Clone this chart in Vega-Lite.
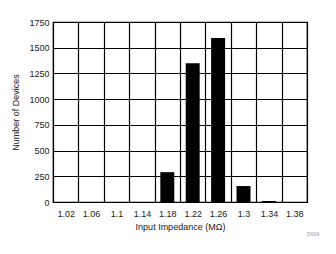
{
  "$schema": "https://vega.github.io/schema/vega-lite/v6.json",
  "autosize": "none",
  "width": 254,
  "height": 180,
  "padding": {"left": 53, "top": 22, "right": 29, "bottom": 52},
  "background": "white",
  "config": {
    "font": "Liberation Sans",
    "view": {"stroke": "black", "strokeWidth": 1.2},
    "axis": {"labelFont": "Liberation Sans", "titleFont": "Liberation Sans", "labelColor": "#222", "titleColor": "#222", "titleFontWeight": "normal", "labelFontSize": 9, "titleFontSize": 9}
  },
  "title": {"text": "D004", "orient": "bottom", "anchor": "end", "fontSize": 5, "color": "#999", "fontWeight": "normal", "offset": 1, "dx": 12},
  "data": {"values": [
    {"imp": "1.02", "count": 0},
    {"imp": "1.06", "count": 0},
    {"imp": "1.1", "count": 0},
    {"imp": "1.14", "count": 0},
    {"imp": "1.18", "count": 290},
    {"imp": "1.22", "count": 1350},
    {"imp": "1.26", "count": 1595},
    {"imp": "1.3", "count": 155},
    {"imp": "1.34", "count": 10},
    {"imp": "1.38", "count": 0}
  ]},
  "mark": {"type": "bar", "color": "black", "width": {"band": 0.55}},
  "encoding": {
    "x": {"field": "imp", "type": "ordinal", "sort": null,
      "scale": {"paddingInner": 0, "paddingOuter": 0},
      "axis": {"title": "Input Impedance (MΩ)", "labelAngle": 0, "ticks": false, "domain": false, "tickBand": "extent", "grid": true, "gridColor": "black", "gridOpacity": 1, "gridWidth": 1.2, "labelPadding": 7, "titlePadding": 4}},
    "y": {"field": "count", "type": "quantitative",
      "scale": {"domain": [0, 1750], "nice": false},
      "axis": {"title": "Number of Devices", "format": "d", "values": [0, 250, 500, 750, 1000, 1250, 1500, 1750], "ticks": false, "domain": false, "grid": true, "gridColor": "black", "gridOpacity": 1, "gridWidth": 1.2, "labelPadding": 4, "titlePadding": 8}}
  }
}
